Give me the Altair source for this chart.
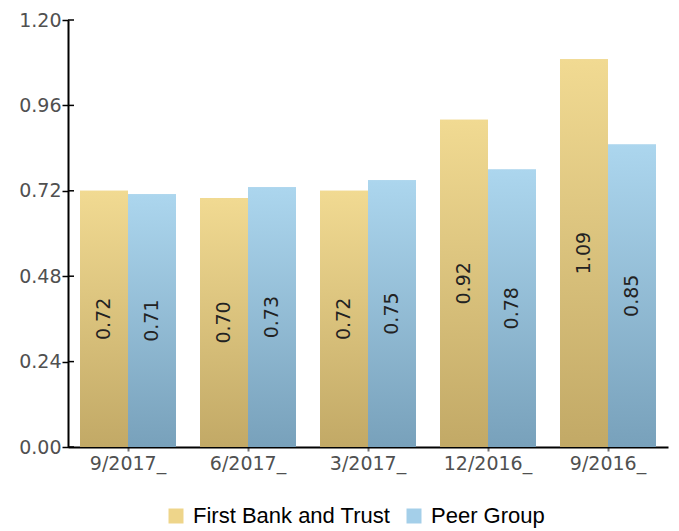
import altair as alt
import pandas as pd

periods = ["9/2017_", "6/2017_", "3/2017_", "12/2016_", "9/2016_"]
first_bank = [0.72, 0.70, 0.72, 0.92, 1.09]
peer_group = [0.71, 0.73, 0.75, 0.78, 0.85]
series_names = ["First Bank and Trust", "Peer Group"]
y_ticks = [0.0, 0.24, 0.48, 0.72, 0.96, 1.20]

rows = []
for p, a, b in zip(periods, first_bank, peer_group):
    rows.append({"period": p, "series": series_names[0], "value": a})
    rows.append({"period": p, "series": series_names[1], "value": b})
df = pd.DataFrame(rows)
ticks_df = pd.DataFrame({"tick": y_ticks})

gold_grad = alt.Gradient(gradient="linear", x1=0, x2=0, y1=0, y2=1,
                         stops=[alt.GradientStop(color="#f1da92", offset=0),
                                alt.GradientStop(color="#c2a966", offset=1)])
blue_grad = alt.Gradient(gradient="linear", x1=0, x2=0, y1=0, y2=1,
                         stops=[alt.GradientStop(color="#acd6ee", offset=0),
                                alt.GradientStop(color="#78a1bb", offset=1)])

yscale = alt.Scale(domain=[0, 1.2], nice=False)

x_enc = alt.X("period:N", sort=periods,
              scale=alt.Scale(paddingInner=0.2, paddingOuter=0.1),
              axis=alt.Axis(title=None, labelAngle=0, labelFont="DejaVu Sans",
                            labelFontSize=19, labelColor="#505050",
                            domainColor="#000000", domainWidth=2,
                            tickColor="#777777", tickWidth=2, tickSize=4, labelPadding=3))
y_enc = alt.Y("value:Q", scale=yscale,
              axis=alt.Axis(title=None, values=y_ticks, format=".2f",
                            labelFont="DejaVu Sans", labelFontSize=19,
                            labelColor="#505050", domainColor="#000000",
                            domainWidth=2, tickColor="#000000", tickWidth=1.5,
                            tickSize=6, labelPadding=1, grid=False))
xo = alt.XOffset("series:N", sort=series_names)

base = alt.Chart(df)

legend_layer = base.mark_bar().encode(
    x=x_enc, y=y_enc, xOffset=xo,
    color=alt.Color("series:N", sort=series_names,
                    scale=alt.Scale(domain=series_names, range=["#eed58a", "#a4cfe9"]),
                    legend=alt.Legend(title=None, orient="none", direction="horizontal",
                                      legendX=97, legendY=485,
                                      symbolType="square", symbolSize=225,
                                      labelFont="Liberation Sans", labelFontSize=22,
                                      labelColor="#000000", columnPadding=12,
                                      labelOffset=6, labelLimit=0,
                                      symbolStrokeWidth=0)),
)

gold_layer = base.transform_filter(alt.datum.series == series_names[0]).mark_bar(
    fill=gold_grad).encode(x=x_enc, y=y_enc, xOffset=xo)
blue_layer = base.transform_filter(alt.datum.series == series_names[1]).mark_bar(
    fill=blue_grad).encode(x=x_enc, y=y_enc, xOffset=xo)

labels = base.transform_calculate(mid="datum.value / 2").mark_text(
    angle=270, font="DejaVu Sans", fontSize=19, color="#222222",
    align="center", baseline="middle").encode(
    x=x_enc, xOffset=xo,
    y=alt.Y("mid:Q", scale=yscale),
    text=alt.Text("value:Q", format=".2f"))

tick_right = alt.Chart(ticks_df).mark_rule(color="#000000", strokeWidth=1.5).encode(
    y=alt.Y("tick:Q", scale=yscale),
    x=alt.value(0), x2=alt.value(6))

chart = alt.layer(legend_layer, gold_layer, blue_layer, labels, tick_right).properties(
    width=600, height=427,
    autosize=alt.AutoSizeParams(type="none"),
    padding={"left": 68, "top": 20, "right": 11, "bottom": 84},
).configure_view(stroke=None)

chart.save("out.html", embed_options={"renderer": "svg", "actions": False})
